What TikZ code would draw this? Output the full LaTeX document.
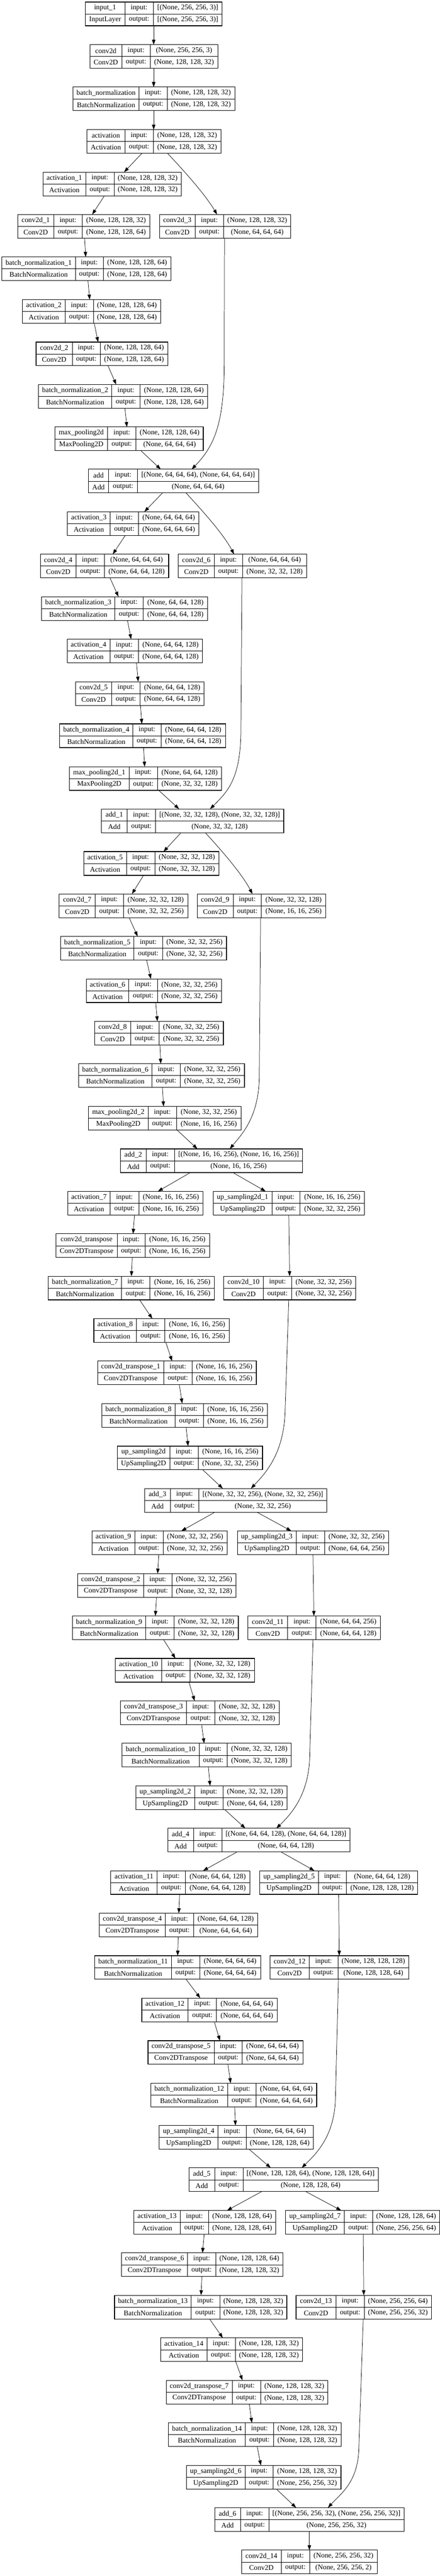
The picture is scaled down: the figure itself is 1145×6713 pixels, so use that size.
\documentclass[tikz,border=0pt]{standalone}
\usepackage{fontspec}
\setmainfont{Liberation Serif}
\usetikzlibrary{arrows.meta,fit}

\tikzset{
  layerbox/.style={draw=black,line width=1.5pt,inner sep=0pt,outer sep=0pt},
  cell/.style={draw=black,line width=1pt},
  txt/.style={inner sep=0pt,font=\fontsize{18.67}{22}\selectfont},
  edge/.style={draw=black,line width=1pt,-{Triangle[length=13pt,width=9pt]}}
}

\def\getcols#1/#2/#3/#4\relax{\def\colL{#1}\def\colA{#2}\def\colB{#3}\def\colR{#4}}

% name, columns, top, layer, class, input, output
\newcommand{\layer}[7]{%
  \getcols#2\relax
  \pgfmathsetmacro\yBot{#3+61.7}
  \pgfmathsetmacro\yMid{#3+31}
  \pgfmathsetmacro\yUp{#3+15.6}
  \pgfmathsetmacro\yLo{#3+46.3}
  \pgfmathsetmacro\xOne{(\colL+\colA)/2}
  \pgfmathsetmacro\xTwo{(\colA+\colB)/2}
  \pgfmathsetmacro\xThree{(\colB+\colR)/2}
  \node[layerbox,fit={(\colL,#3) (\colR,\yBot)}] (#1) {};
  \draw[cell] (\colA,#3) -- (\colA,\yBot) (\colB,#3) -- (\colB,\yBot) (\colL,\yMid) -- (\colR,\yMid);
  \node[txt] (#1-name) at (\xOne,\yUp) {#4};
  \node[txt] (#1-class) at (\xOne,\yLo) {#5};
  \node[txt] (#1-inl) at (\xTwo,\yUp) {input:};
  \node[txt] (#1-outl) at (\xTwo,\yLo) {output:};
  \node[txt] (#1-in) at (\xThree,\yUp) {#6};
  \node[txt] (#1-out) at (\xThree,\yLo) {#7};
}

\newcommand{\link}[4]{\draw[edge] (#1.south -| #2,0) -- (#3.north -| #4,0);}

\begin{document}
\begin{tikzpicture}[x=1pt,y=-1pt]
\useasboundingbox (0,0) rectangle (1145,6713);

\layer{in1}{222.4/325/399/578.4}{5.4}{input\_1}{InputLayer}{[(None, 256, 256, 3)]}{[(None, 256, 256, 3)]}
\layer{cv}{234/317/391/567}{116.4}{conv2d}{Conv2D}{(None, 256, 256, 3)}{(None, 128, 128, 32)}
\layer{bn}{190/362/435/611}{226.8}{batch\_normalization}{BatchNormalization}{(None, 128, 128, 32)}{(None, 128, 128, 32)}
\layer{act}{226/325/399/575}{337.9}{activation}{Activation}{(None, 128, 128, 32)}{(None, 128, 128, 32)}
\layer{act1}{112/223/297/472}{448.6}{activation\_1}{Activation}{(None, 128, 128, 32)}{(None, 128, 128, 32)}
\layer{cv1}{46/140/214/390}{559}{conv2d\_1}{Conv2D}{(None, 128, 128, 32)}{(None, 128, 128, 64)}
\layer{cv3}{415/508/582/757}{559}{conv2d\_3}{Conv2D}{(None, 128, 128, 32)}{(None, 64, 64, 64)}
\layer{bn1}{5/196/269/445}{669.6}{batch\_normalization\_1}{BatchNormalization}{(None, 128, 128, 64)}{(None, 128, 128, 64)}
\layer{act2}{58.7/169.6/243/418}{780.7}{activation\_2}{Activation}{(None, 128, 128, 64)}{(None, 128, 128, 64)}
\layer{cv2}{94/188/261/436.7}{891.4}{conv2d\_2}{Conv2D}{(None, 128, 128, 64)}{(None, 128, 128, 64)}
\layer{bn2}{100.6/290.7/364.8/540}{1002}{batch\_normalization\_2}{BatchNormalization}{(None, 128, 128, 64)}{(None, 128, 128, 64)}
\layer{mp}{143/280/354/529}{1112.9}{max\_pooling2d}{MaxPooling2D}{(None, 128, 128, 64)}{(None, 64, 64, 64)}
\layer{add}{229.7/283/357.5/673.8}{1223}{add}{Add}{[(None, 64, 64, 64), (None, 64, 64, 64)]}{(None, 64, 64, 64)}
\layer{act3}{175.4/287/360/518}{1333.6}{activation\_3}{Activation}{(None, 64, 64, 64)}{(None, 64, 64, 64)}
\layer{cv4}{105/198/272/439}{1444.3}{conv2d\_4}{Conv2D}{(None, 64, 64, 64)}{(None, 64, 64, 128)}
\layer{cv6}{464/558/631/798.6}{1444.3}{conv2d\_6}{Conv2D}{(None, 64, 64, 64)}{(None, 32, 32, 128)}
\layer{bn3}{108.6/298.7/373/540}{1555}{batch\_normalization\_3}{BatchNormalization}{(None, 64, 64, 128)}{(None, 64, 64, 128)}
\layer{act4}{174.7/286/360.4/527}{1665.7}{activation\_4}{Activation}{(None, 64, 64, 128)}{(None, 64, 64, 128)}
\layer{cv5}{196.7/290.7/364.8/531.4}{1776.4}{conv2d\_5}{Conv2D}{(None, 64, 64, 128)}{(None, 64, 64, 128)}
\layer{bn4}{155.6/345.7/419/587}{1886.4}{batch\_normalization\_4}{BatchNormalization}{(None, 64, 64, 128)}{(None, 64, 64, 128)}
\layer{mp1}{180.6/336/410/577}{1997.9}{max\_pooling2d\_1}{MaxPooling2D}{(None, 64, 64, 128)}{(None, 32, 32, 128)}
\layer{add1}{264/331/405/738.4}{2108.2}{add\_1}{Add}{[(None, 32, 32, 128), (None, 32, 32, 128)]}{(None, 32, 32, 128)}
\layer{act5}{218/328.8/403/570}{2219.3}{activation\_5}{Activation}{(None, 32, 32, 128)}{(None, 32, 32, 128)}
\layer{cv7}{154/248/321.5/489}{2329.6}{conv2d\_7}{Conv2D}{(None, 32, 32, 128)}{(None, 32, 32, 256)}
\layer{cv9}{513/607/680.4/847.8}{2329.6}{conv2d\_9}{Conv2D}{(None, 32, 32, 128)}{(None, 16, 16, 256)}
\layer{bn5}{157.8/348.6/422.8/589.4}{2440.4}{batch\_normalization\_5}{BatchNormalization}{(None, 32, 32, 256)}{(None, 32, 32, 256)}
\layer{act6}{224.6/335.4/409.6/577}{2551}{activation\_6}{Activation}{(None, 32, 32, 256)}{(None, 32, 32, 256)}
\layer{cv8}{246.6/339.8/414/581.3}{2661.4}{conv2d\_8}{Conv2D}{(None, 32, 32, 256)}{(None, 32, 32, 256)}
\layer{bn6}{204.8/395.6/469/636.4}{2772}{batch\_normalization\_6}{BatchNormalization}{(None, 32, 32, 256)}{(None, 32, 32, 256)}
\layer{mp2}{230.5/385.4/459.5/627.6}{2883.2}{max\_pooling2d\_2}{MaxPooling2D}{(None, 32, 32, 256)}{(None, 16, 16, 256)}
\layer{add2}{313.4/380/454.4/787.6}{2994}{add\_2}{Add}{[(None, 16, 16, 256), (None, 16, 16, 256)]}{(None, 16, 16, 256)}
\layer{act7}{176/287/361/528.5}{3104.6}{activation\_7}{Activation}{(None, 16, 16, 256)}{(None, 16, 16, 256)}
\layer{up1}{555/707.6/781/949}{3104.6}{up\_sampling2d\_1}{UpSampling2D}{(None, 16, 16, 256)}{(None, 32, 32, 256)}
\layer{ct}{146/304.6/378/545.4}{3215.4}{conv2d\_transpose}{Conv2DTranspose}{(None, 16, 16, 256)}{(None, 16, 16, 256)}
\layer{bn7}{126/316.4/390.5/558}{3325.7}{batch\_normalization\_7}{BatchNormalization}{(None, 16, 16, 256)}{(None, 16, 16, 256)}
\layer{cv10}{582/685.6/759/926.3}{3325.7}{conv2d\_10}{Conv2D}{(None, 32, 32, 256)}{(None, 32, 32, 256)}
\layer{act8}{244.4/355/429.4/596.7}{3436.4}{activation\_8}{Activation}{(None, 16, 16, 256)}{(None, 16, 16, 256)}
\layer{ct1}{254.7/425.7/500/667.2}{3546.8}{conv2d\_transpose\_1}{Conv2DTranspose}{(None, 16, 16, 256)}{(None, 16, 16, 256)}
\layer{bn8}{265/455.8/529.2/696.6}{3657.5}{batch\_normalization\_8}{BatchNormalization}{(None, 16, 16, 256)}{(None, 16, 16, 256)}
\layer{up}{305.3/441.9/516/683.3}{3768.6}{up\_sampling2d}{UpSampling2D}{(None, 16, 16, 256)}{(None, 32, 32, 256)}
\layer{add3}{376.5/443.3/517.5/850.7}{3879}{add\_3}{Add}{[(None, 32, 32, 256), (None, 32, 32, 256)]}{(None, 32, 32, 256)}
\layer{act9}{239.3/350.9/424.3/591.6}{3989.6}{activation\_9}{Activation}{(None, 32, 32, 256)}{(None, 32, 32, 256)}
\layer{up3}{618/770.7/844.8/1011.5}{3989.6}{up\_sampling2d\_3}{UpSampling2D}{(None, 32, 32, 256)}{(None, 64, 64, 256)}
\layer{ct2}{202.6/373.6/447.7/614.4}{4100.7}{conv2d\_transpose\_2}{Conv2DTranspose}{(None, 32, 32, 256)}{(None, 32, 32, 128)}
\layer{bn9}{188.6/379.5/453.6/620.2}{4211}{batch\_normalization\_9}{BatchNormalization}{(None, 32, 32, 128)}{(None, 32, 32, 128)}
\layer{cv11}{645.2/748.7/822.8/990.2}{4211}{conv2d\_11}{Conv2D}{(None, 64, 64, 256)}{(None, 64, 64, 128)}
\layer{act10}{300.2/420.6/494.7/662}{4321.8}{activation\_10}{Activation}{(None, 32, 32, 128)}{(None, 32, 32, 128)}
\layer{ct3}{313.4/485.2/559.3/726.7}{4432.5}{conv2d\_transpose\_3}{Conv2DTranspose}{(None, 32, 32, 128)}{(None, 32, 32, 128)}
\layer{bn10}{317.8/518.2/591.6/758.2}{4543.2}{batch\_normalization\_10}{BatchNormalization}{(None, 32, 32, 128)}{(None, 32, 32, 128)}
\layer{up2}{353.8/506.5/580.6/747.2}{4654}{up\_sampling2d\_2}{UpSampling2D}{(None, 32, 32, 128)}{(None, 64, 64, 128)}
\layer{add4}{436.7/503.5/577.6/910.9}{4764.6}{add\_4}{Add}{[(None, 64, 64, 128), (None, 64, 64, 128)]}{(None, 64, 64, 128)}
\layer{act11}{288.5/408.8/483/650.3}{4875}{activation\_11}{Activation}{(None, 64, 64, 128)}{(None, 64, 64, 128)}
\layer{up5}{676/828.7/902/1087}{4875}{up\_sampling2d\_5}{UpSampling2D}{(None, 64, 64, 128)}{(None, 128, 128, 128)}
\layer{ct4}{259/430/504.3/670.9}{4985.7}{conv2d\_transpose\_4}{Conv2DTranspose}{(None, 64, 64, 128)}{(None, 64, 64, 64)}
\layer{bn11}{246.6/446.3/519.7/678.2}{5096.4}{batch\_normalization\_11}{BatchNormalization}{(None, 64, 64, 64)}{(None, 64, 64, 64)}
\layer{cv12}{702.4/805.2/879.3/1064.3}{5096.4}{conv2d\_12}{Conv2D}{(None, 128, 128, 128)}{(None, 128, 128, 64)}
\layer{act12}{369.2/489.6/563.7/721.5}{5206.8}{activation\_12}{Activation}{(None, 64, 64, 64)}{(None, 64, 64, 64)}
\layer{ct5}{385.3/557.1/630.5/788.3}{5317.9}{conv2d\_transpose\_5}{Conv2DTranspose}{(None, 64, 64, 64)}{(None, 64, 64, 64)}
\layer{bn12}{392.7/592.3/666.5/824.3}{5428.6}{batch\_normalization\_12}{BatchNormalization}{(None, 64, 64, 64)}{(None, 64, 64, 64)}
\layer{up4}{414.7/567.4/640.8/815.5}{5538.9}{up\_sampling2d\_4}{UpSampling2D}{(None, 64, 64, 64)}{(None, 128, 128, 64)}
\layer{add5}{491.8/558.6/632.7/984.3}{5649.3}{add\_5}{Add}{[(None, 128, 128, 64), (None, 128, 128, 64)]}{(None, 128, 128, 64)}
\layer{act13}{348.7/469/543.2/717.8}{5760.4}{activation\_13}{Activation}{(None, 128, 128, 64)}{(None, 128, 128, 64)}
\layer{up7}{743.5/896.2/970.3/1144}{5760.4}{up\_sampling2d\_7}{UpSampling2D}{(None, 128, 128, 64)}{(None, 256, 256, 64)}
\layer{ct6}{316.3/488.1/561.5/736.2}{5871}{conv2d\_transpose\_6}{Conv2DTranspose}{(None, 128, 128, 64)}{(None, 128, 128, 32)}
\layer{bn13}{298/497.7/571.8/746.5}{5981.4}{batch\_normalization\_13}{BatchNormalization}{(None, 128, 128, 32)}{(None, 128, 128, 32)}
\layer{cv13}{770.7/874.2/948.3/1123}{5981.4}{conv2d\_13}{Conv2D}{(None, 256, 256, 64)}{(None, 256, 256, 32)}
\layer{act14}{418.4/538.8/612.2/787.6}{6092.5}{activation\_14}{Activation}{(None, 128, 128, 32)}{(None, 128, 128, 32)}
\layer{ct7}{433/604/678.2/853.6}{6203}{conv2d\_transpose\_7}{Conv2DTranspose}{(None, 128, 128, 32)}{(None, 128, 128, 32)}
\layer{bn14}{438.9/638.6/712/888.1}{6313.8}{batch\_normalization\_14}{BatchNormalization}{(None, 128, 128, 32)}{(None, 128, 128, 32)}
\layer{up6}{485.2/637.8/711.2/887.4}{6424.6}{up\_sampling2d\_6}{UpSampling2D}{(None, 128, 128, 32)}{(None, 256, 256, 32)}
\layer{add6}{558.6/626.1/699.5/1051.8}{6535}{add\_6}{Add}{[(None, 256, 256, 32), (None, 256, 256, 32)]}{(None, 256, 256, 32)}
\layer{cv14}{629/731.8/805.9/982}{6645.7}{conv2d\_14}{Conv2D}{(None, 256, 256, 32)}{(None, 256, 256, 2)}

\link{in1}{400}{cv}{400}
\link{cv}{400}{bn}{400}
\link{bn}{400}{act}{400}
\link{act}{369.3}{act1}{323}
\link{act1}{271.6}{cv1}{240}
\link{cv1}{220.2}{bn1}{223.1}
\link{bn1}{229}{act2}{233.4}
\link{act2}{245.2}{cv2}{255.4}
\link{cv2}{281.1}{bn2}{302.4}
\link{bn2}{325.2}{mp}{330.3}
\link{mp}{367}{add}{418.4}
\link{add}{422.8}{act3}{375.8}
\link{act3}{326}{cv4}{293.6}
\link{cv4}{286.3}{bn3}{308.3}
\link{bn3}{331.8}{act4}{341.3}
\link{act4}{355.2}{cv5}{359.7}
\link{cv5}{365.5}{bn4}{369.2}
\link{bn4}{373.6}{mp1}{376.5}
\link{mp1}{413.2}{add1}{466.1}
\link{add1}{471.2}{act5}{425.7}
\link{act5}{373.6}{cv7}{343.5}
\link{cv7}{336.2}{bn5}{358.2}
\link{bn5}{381.7}{act6}{392.7}
\link{act6}{405.2}{cv8}{409.6}
\link{cv8}{416.2}{bn6}{418.4}
\link{bn6}{422.8}{mp2}{425.7}
\link{mp2}{461}{add2}{513.8}
\link{add2}{495.4}{act7}{411}
\link{add2}{606.3}{up1}{691.4}
\link{act7}{350.1}{ct}{346.4}
\link{ct}{344.2}{bn7}{342}
\link{up1}{751.6}{cv10}{753.8}
\link{bn7}{363.3}{act8}{396.4}
\link{act8}{431.6}{ct1}{447.7}
\link{ct1}{466.8}{bn8}{474.2}
\link{bn8}{484.4}{up}{489.6}
\link{up}{527.7}{add3}{579.9}
\link{add3}{559.3}{act9}{472}
\link{add3}{668.7}{up3}{758.2}
\link{act9}{413.2}{ct2}{410.3}
\link{ct2}{407.4}{bn9}{404.4}
\link{bn9}{425.7}{act10}{456.5}
\link{act10}{491.8}{ct3}{506.5}
\link{up3}{814.7}{cv11}{817}
\link{ct3}{524.8}{bn10}{531.4}
\link{bn10}{542.4}{up2}{546.8}
\link{up2}{585}{add4}{638.6}
\link{add4}{616.6}{act11}{528.5}
\link{add4}{731.8}{up5}{818.4}
\link{act11}{467.6}{ct4}{465.4}
\link{up5}{881.5}{cv12}{883}
\link{ct4}{463.9}{bn11}{462.4}
\link{bn11}{484.4}{act12}{521.1}
\link{act12}{557.8}{ct5}{572.5}
\link{ct5}{593.1}{bn12}{600.4}
\link{bn12}{610.7}{up4}{612.9}
\link{up4}{648.1}{add5}{704.6}
\link{add5}{681.2}{act13}{590.9}
\link{add5}{795.7}{up7}{888.1}
\link{act13}{531.4}{ct6}{527}
\link{ct6}{525.5}{bn13}{523.3}
\link{bn13}{545.4}{act14}{579.9}
\link{up7}{945.4}{cv13}{946.8}
\link{act14}{613.6}{ct7}{631.2}
\link{ct7}{648.8}{bn14}{655.5}
\link{bn14}{669.4}{up6}{679}
\link{up6}{719.3}{add6}{770.7}
\link{add6}{805.2}{cv14}{805.2}

% residual branches
\draw[edge] (act.south -| 436,0) .. controls (460,425) and (530,500) .. (cv3.north -| 565,0);
\draw[edge] (add.south -| 484.4,0) .. controls (508,1311) and (578,1385) .. (cv6.north -| 609.2,0);
\draw[edge] (add1.south -| 534.3,0) .. controls (558,2196) and (626,2270) .. (cv9.north -| 657,0);
\draw[edge] (cv3.south -| 584.3,0) -- (583.5,960) .. controls (582,1110) and (555,1165) .. (add.north -| 499,0);
\draw[edge] (cv6.south -| 629.8,0) -- (627,1900) .. controls (627,2030) and (592,2063) .. (add1.north -| 546.8,0);
\draw[edge] (cv9.south -| 678.2,0) -- (675,2800) .. controls (675,2910) and (630,2955) .. (add2.north -| 598.2,0);
\draw[edge] (cv10.south -| 751.6,0) -- (742,3680) .. controls (738,3790) and (690,3840) .. (add3.north -| 653.2,0);
\draw[edge] (cv11.south -| 814.7,0) -- (806,4580) .. controls (803,4680) and (755,4730) .. (add4.north -| 719.3,0);
\draw[edge] (cv12.south -| 880.8,0) -- (873,5470) .. controls (870,5570) and (820,5615) .. (add5.north -| 785.4,0);
\draw[edge] (cv13.south -| 945.4,0) -- (934,6380) .. controls (932,6470) and (885,6500) .. (add6.north -| 853.6,0);

\end{tikzpicture}
\end{document}
